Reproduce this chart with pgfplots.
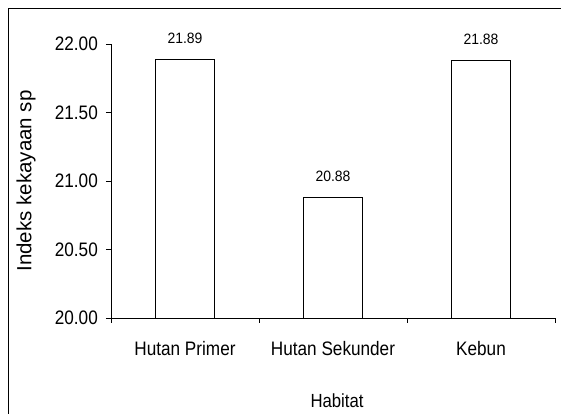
\documentclass[border=0pt]{standalone}
\usepackage{fontspec}
\setmainfont{Liberation Sans}
\newfontfamily\narrowfont[FakeStretch=0.88]{Liberation Sans}
\newfontfamily\valfont[FakeStretch=0.93]{Liberation Sans}
\usepackage{pgfplots}
\pgfplotsset{compat=1.18}
\begin{document}
\begin{tikzpicture}
\begin{axis}[
  at={(111bp,96bp)}, anchor=south west,
  scale only axis, width=444bp, height=274bp,
  xmin=-0.5, xmax=2.5, ymin=20, ymax=22,
  enlargelimits=false,
  axis x line=bottom, axis y line=left,
  axis line style={-, line width=0.9bp, black},
  ybar, bar width=0.4,
  xtick={0,1,2},
  xticklabels={Hutan Primer, Hutan Sekunder, Kebun},
  minor xtick={-0.5,0.5,1.5,2.5},
  ytick={20,20.5,21,21.5,22},
  tick align=outside,
  major tick length=5bp,
  minor tick length=5bp,
  tick style={black, line width=0.8bp},
  major x tick style={draw=none},
  /pgf/number format/assume math mode=true,
  yticklabel style={font=\fontsize{19.5bp}{22bp}\narrowfont, anchor=east, inner sep=0pt, xshift=-8bp,
    /pgf/number format/.cd, fixed, fixed zerofill, precision=2},
  xticklabel style={font=\fontsize{19.5bp}{22bp}\narrowfont, anchor=base, inner sep=0pt, yshift=-32bp},
  xlabel={Habitat},
  xlabel style={at={(axis description cs:0.5,0)}, anchor=base, inner sep=0pt, yshift=-89bp, xshift=4bp,
    font=\fontsize{19bp}{22bp}\narrowfont},
  ylabel={Indeks kekayaan sp},
  ylabel style={at={(axis description cs:0,0.5)}, anchor=center, yshift=85bp,
    font=\fontsize{20.5bp}{24bp}\selectfont},
]
\addplot[draw=black, fill=white, line width=0.9bp,
  nodes near coords,
  every node near coord/.append style={font=\fontsize{15bp}{18bp}\valfont, anchor=south, inner sep=0pt, yshift=15bp,
    /pgf/number format/.cd, fixed, fixed zerofill, precision=2}]
  coordinates {(0,21.89) (1,20.88) (2,21.88)};
\end{axis}
\draw[line width=1bp, black] (8bp,-10bp) -- (8bp,405bp) -- (575bp,405bp);
\pgfresetboundingbox
\path (0,0) rectangle (561bp,414bp);
\end{tikzpicture}
\end{document}
